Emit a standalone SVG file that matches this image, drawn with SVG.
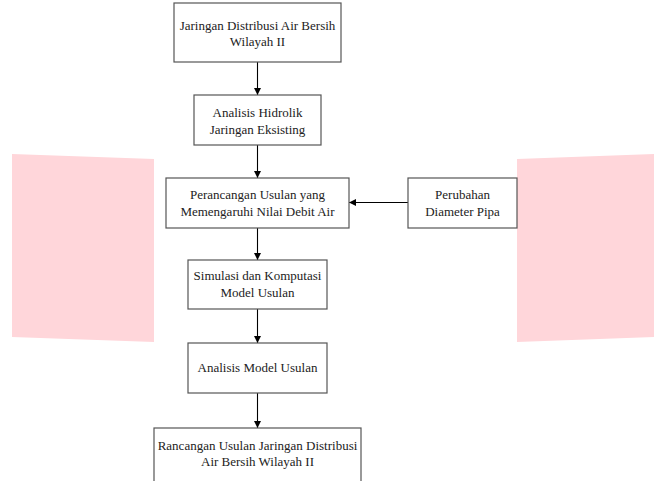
<svg xmlns="http://www.w3.org/2000/svg" width="654" height="481" viewBox="0 0 654 481">
<style>
.box{fill:#fff;stroke:#555;stroke-width:1.2}
.t{font-family:"Liberation Serif","Times New Roman",serif;font-size:13px;fill:#222;text-anchor:middle}
.c{stroke:#000;stroke-width:1.1;fill:none}
.pink{fill:#ffd6da}
</style>
<defs>
<marker id="ah" viewBox="0 0 10 10" refX="10" refY="5" markerWidth="7" markerHeight="7" markerUnits="userSpaceOnUse" orient="auto">
<path d="M0,0 L10,5 L0,10 z" fill="#000"/>
</marker>
</defs>
<rect width="654" height="481" fill="#fff"/>
<polygon class="pink" points="12,154 154,159 154,342 12,337"/>
<polygon class="pink" points="517,159 654,154 654,337 517,342"/>
<g id="connectors">
<line class="c" x1="257.5" y1="62" x2="257.5" y2="95" marker-end="url(#ah)"/>
<line class="c" x1="257.5" y1="145" x2="257.5" y2="178" marker-end="url(#ah)"/>
<line class="c" x1="408" y1="202.5" x2="349" y2="202.5" marker-end="url(#ah)"/>
<line class="c" x1="257.5" y1="228" x2="257.5" y2="260" marker-end="url(#ah)"/>
<line class="c" x1="257.5" y1="309" x2="257.5" y2="343" marker-end="url(#ah)"/>
<line class="c" x1="257.5" y1="393" x2="257.5" y2="428" marker-end="url(#ah)"/>
</g>
<g id="n1"><rect class="box" x="174" y="3" width="167" height="59"/>
<text class="t" x="257.5" y="30">Jaringan Distribusi Air Bersih</text>
<text class="t" x="257.5" y="46">Wilayah II</text></g>
<g id="n2"><rect class="box" x="194" y="95" width="127" height="50"/>
<text class="t" x="257.5" y="117">Analisis Hidrolik</text>
<text class="t" x="257.5" y="134">Jaringan Eksisting</text></g>
<g id="n3"><rect class="box" x="166" y="178" width="183" height="50"/>
<text class="t" x="257.5" y="199">Perancangan Usulan yang</text>
<text class="t" x="257.5" y="216">Memengaruhi Nilai Debit Air</text></g>
<g id="n4"><rect class="box" x="408" y="178" width="109" height="50"/>
<text class="t" x="462.5" y="199">Perubahan</text>
<text class="t" x="462.5" y="216">Diameter Pipa</text></g>
<g id="n5"><rect class="box" x="188" y="260" width="139" height="49"/>
<text class="t" x="257.5" y="280">Simulasi dan Komputasi</text>
<text class="t" x="257.5" y="297">Model Usulan</text></g>
<g id="n6"><rect class="box" x="188" y="343" width="139" height="50"/>
<text class="t" x="257.5" y="372">Analisis Model Usulan</text></g>
<g id="n7"><rect class="box" x="154" y="428" width="207" height="70"/>
<text class="t" x="257.5" y="450">Rancangan Usulan Jaringan Distribusi</text>
<text class="t" x="257.5" y="466">Air Bersih Wilayah II</text></g>
</svg>
